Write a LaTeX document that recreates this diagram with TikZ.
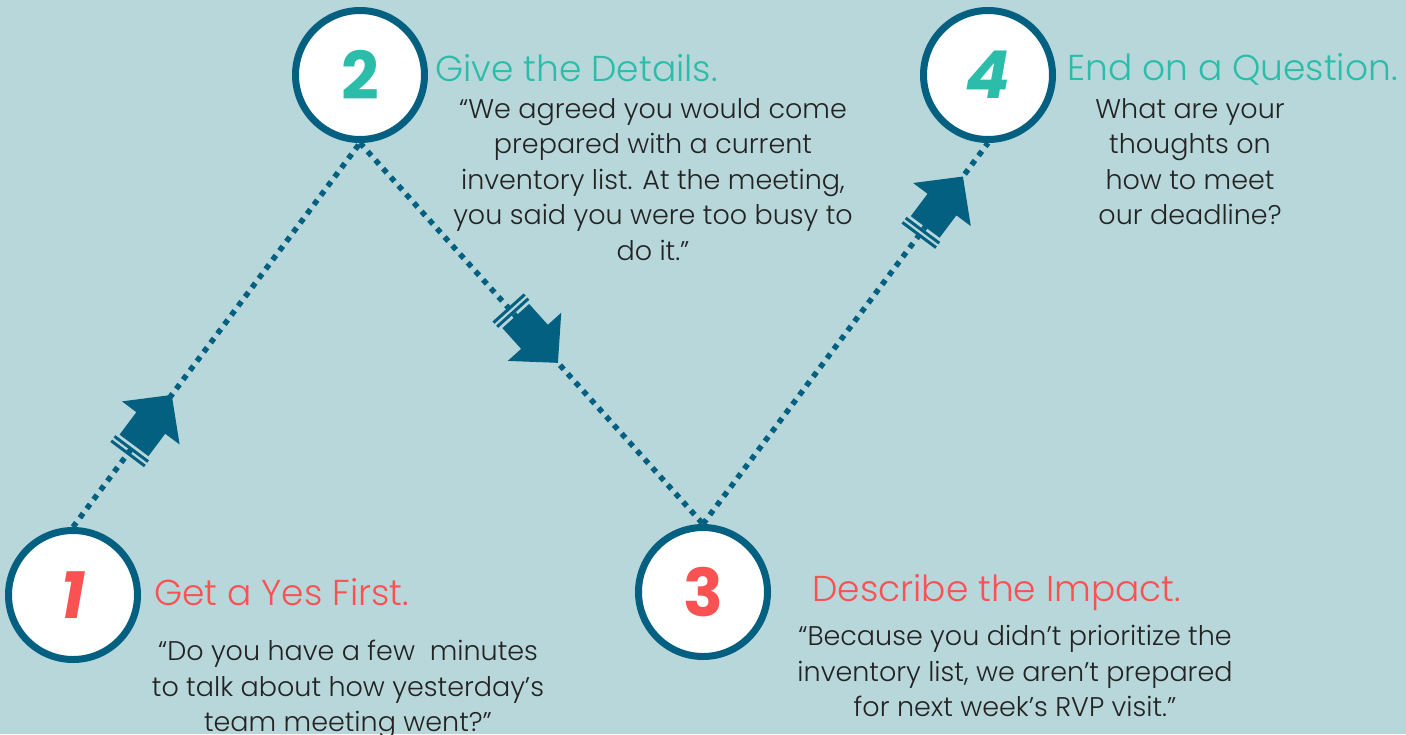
\documentclass[tikz,border=0pt]{standalone}
\usepackage{fontspec}
\setmainfont{Poppins}[UprightFont=* Light, BoldFont=* Bold, ItalicFont=* Light Italic, BoldItalicFont=* Bold Italic]
\definecolor{bg}{RGB}{184,215,219}
\definecolor{ink}{RGB}{4,96,128}
\definecolor{teal}{RGB}{43,189,170}
\definecolor{coral}{RGB}{250,82,82}
\definecolor{textcol}{RGB}{35,35,35}
\begin{document}
\begin{tikzpicture}[x=1pt,y=-1pt,
  stepcircle/.style={circle, draw=ink, line width=7pt, fill=white, minimum size=129pt, inner sep=0pt},
  numfont/.style={font=\fontsize{66}{66}\selectfont\bfseries},
  trail/.style={draw=ink, line width=5.5pt, dash pattern=on 5.5pt off 6pt},
  heading/.style={anchor=west, inner sep=0pt, font=\fontsize{36}{40}\selectfont},
  body/.style={anchor=north, align=center, inner sep=0pt, text=textcol, font=\fontsize{27}{35.5}\selectfont},
  blockarrow/.pic={
    \fill[ink] (0,0) -- (-35,36) -- (-35,18) -- (-63,18) -- (-63,-18) -- (-35,-18) -- (-35,-36) -- cycle;
    \fill[ink] (-66,-21) rectangle (-69,21);
    \fill[ink] (-71.5,-21) rectangle (-74.5,21);
  }]
\useasboundingbox[fill=bg] (0,0) rectangle (1406,734);

% the four steps
\node[stepcircle, numfont, text=coral] (s1) at (73,595) {\itshape 1};
\node[stepcircle, numfont, text=teal]  (s2) at (360,75) {2};
\node[stepcircle, numfont, text=coral] (s3) at (703,592) {3};
\node[stepcircle, numfont, text=teal]  (s4) at (988,75) {\itshape 4};

% dotted trail between the steps, with a block arrow on each leg
\draw[trail] (s1.north) -- (s2.south) pic[pos=0.344, sloped]{blockarrow};
\draw[trail] (s2.south) -- (s3.north) pic[pos=0.577, sloped]{blockarrow};
\draw[trail] (s3.north) -- (s4.south) pic[pos=0.912, sloped]{blockarrow};

% headings
\node[heading, text=coral] (h1) at (154,592) {Get a Yes First.};
\node[heading, text=teal]  (h2) at (435,68)  {Give the Details.};
\node[heading, text=coral] (h3) at (812,593) {Describe the Impact.};
\node[heading, text=teal]  (h4) at (1067,69) {End on a Question.};

% quotations
\node[body] (b1) at (348,640) {“Do you have a few~ minutes\\to talk about how yesterday’s\\team meeting went?”};
\node[body] (b2) at (653,98) {“We agreed you would come\\prepared with a current\\inventory list. At the meeting,\\you said you were too busy to\\do it.”};
\node[body] (b3) at (1015,625) {“Because you didn’t prioritize the\\inventory list, we aren’t prepared\\for next week’s RVP visit.”};
\node[body] (b4) at (1190,98) {What are your\\thoughts on\\how to meet\\our deadline?};
\end{tikzpicture}
\end{document}
